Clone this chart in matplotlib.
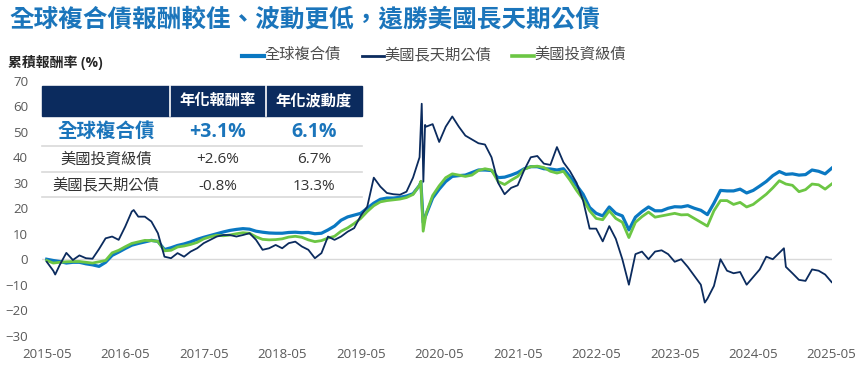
import numpy as np
import matplotlib
matplotlib.use("Agg")
import matplotlib.pyplot as plt
from matplotlib.lines import Line2D
from matplotlib.patches import Rectangle

plt.rcParams['font.family'] = ['Open Sans', 'Noto Sans CJK TC', 'DejaVu Sans']

# months since 2015-05
months = np.arange(121)
tick_months = np.arange(0, 121, 12)
tick_labels = ['2015-05', '2016-05', '2017-05', '2018-05', '2019-05', '2020-05',
               '2021-05', '2022-05', '2023-05', '2024-05', '2025-05']

series_names = ['全球複合債', '美國長天期公債', '美國投資級債']

global_agg = [0, -0.5, -0.9, -1.5, -1.2, -1.2, -1.8, -2.2, -2.8, -1.2,
              1.5, 2.8, 4.2, 5.5, 6.2, 6.8, 7.4, 7.0, 3.8, 4.5,
              5.4, 6.0, 6.8, 7.8, 8.6, 9.3, 10.0, 10.7, 11.3, 11.7,
              12.0, 11.8, 11.0, 10.6, 10.3, 10.2, 10.2, 10.5, 10.6, 10.4,
              10.5, 10.0, 10.2, 11.5, 13.0, 15.3, 16.6, 17.3, 18.0, 20.0,
              22.0, 23.5, 24.0, 24.0, 24.3, 24.8, 25.7, 29.0, 17.5, 24.0,
              27.5, 30.5, 32.5, 32.8, 33.0, 34.0, 35.0, 35.0, 34.8, 32.0,
              32.2, 33.0, 34.0, 35.5, 36.3, 36.3, 35.5, 35.4, 35.0, 35.5,
              32.4, 29.0, 25.5, 20.3, 18.0, 17.0, 20.5, 18.0, 17.0, 11.5,
              16.5, 18.7, 20.5, 19.0, 19.0, 20.0, 20.6, 20.5, 21.0, 20.0,
              19.2, 17.5, 22.0, 27.0, 26.8, 26.8, 27.5, 26.0, 27.0, 28.7,
              30.5, 32.8, 34.4, 33.3, 33.5, 33.0, 33.2, 35.0, 34.5, 33.5,
              35.7]
global_agg_extra_t = [57.2, 57.55]
global_agg_extra_v = [30.2, 14.5]

us_long_tsy = [-1.0, -4.5, -2.2, 2.5, -0.3, 1.5, 0.4, 0.2, 4.0, 8.2,
               8.9, 7.6, 12.8, 18.7, 16.7, 16.7, 14.8, 10.2, 1.0, 0.4,
               2.4, 1.0, 3.0, 4.3, 6.3, 7.6, 8.9, 9.5, 9.5, 8.9,
               9.5, 10.2, 7.6, 3.7, 4.3, 5.6, 4.3, 6.3, 6.9, 5.0,
               3.7, 0.4, 2.4, 8.9, 7.6, 8.9, 10.8, 12.2, 17.0, 20.6,
               32.0, 28.5, 26.0, 25.5, 25.3, 26.5, 32.0, 40.0, 52.0, 53.0,
               46.0, 52.0, 56.0, 52.0, 48.5, 47.0, 45.5, 45.0, 40.0, 30.0,
               25.5, 28.0, 29.0, 35.0, 40.0, 40.5, 37.5, 37.0, 44.0, 38.0,
               34.5, 30.0, 23.0, 12.0, 12.0, 7.0, 13.0, 8.0, 0.0, -10.0,
               2.0, 3.0, 0.0, 3.0, 3.5, 2.0, -1.0, 0.0, -3.0, -6.5,
               -10.0, -15.5, -10.5, 0.0, -4.5, -5.5, -5.0, -10.0, -7.0, -4.0,
               1.0, 0.0, 2.5, -3.0, -5.5, -8.1, -8.5, -4.0, -4.5, -6.0,
               -9.0]
us_long_tsy_extra_t = [1.3, 13.3, 57.33, 57.58, 57.84, 100.6, 112.7]
us_long_tsy_extra_v = [-6.0, 19.3, 61.0, 30.4, 52.7, -17.0, 4.3]

us_ig = [-0.5, -1.5, -1.2, -1.0, -0.9, -0.9, -1.2, -1.5, -1.0, -0.5,
         2.5, 3.5, 4.9, 6.2, 6.8, 7.4, 7.3, 7.0, 3.3, 3.5,
         4.8, 5.2, 5.8, 6.6, 8.0, 8.8, 9.4, 9.2, 9.5, 10.0,
         10.4, 10.2, 8.8, 7.8, 7.6, 7.7, 8.0, 8.7, 9.0, 8.6,
         7.6, 6.9, 7.3, 8.3, 9.0, 11.0, 12.3, 14.0, 16.0, 18.7,
         21.0, 22.5, 23.0, 23.3, 23.6, 24.2, 25.4, 29.0, 18.0, 25.0,
         28.8, 32.0, 33.5, 33.0, 32.5, 33.0, 34.8, 35.5, 35.0, 30.5,
         29.3, 31.0, 32.5, 35.3, 36.3, 36.5, 36.0, 34.5, 33.8, 34.5,
         31.0, 27.0, 23.5, 19.0, 16.0, 15.5, 19.0, 16.0, 14.5, 8.5,
         14.5, 16.7, 18.5, 16.5, 17.0, 17.5, 18.0, 17.4, 17.5, 16.0,
         14.5, 13.0, 19.0, 23.0, 23.0, 21.5, 22.3, 20.5, 21.5, 23.5,
         25.5, 28.0, 30.8, 29.5, 29.0, 26.5, 27.3, 29.5, 29.2, 27.5,
         29.5]
us_ig_extra_t = [57.2, 57.55]
us_ig_extra_v = [30.6, 11.0]

table_cols = ['年化報酬率', '年化波動度']
table_rows = ['全球複合債', '美國投資級債', '美國長天期公債']
ann_return = ['+3.1%', '+2.6%', '-0.8%']
ann_vol = ['6.1%', '6.7%', '13.3%']

BLUE = '#0a78c2'
NAVY = '#0b2b5e'
GREEN = '#6cc644'
TITLE_BLUE = '#1b75bb'
GRAY = '#595959'


def merge(t_main, v_main, t_extra, v_extra):
    t = np.concatenate([np.asarray(t_main, float), np.asarray(t_extra, float)])
    v = np.concatenate([np.asarray(v_main, float), np.asarray(v_extra, float)])
    order = np.argsort(t)
    return t[order], v[order]


W, H = 865, 374
fig = plt.figure(figsize=(W / 100, H / 100), dpi=100)


def fx(px):
    return px / W


def fy(py):
    return 1 - py / H


ax = fig.add_axes([fx(42), fy(335.7), fx(832) - fx(42), fy(80.8) - fy(335.7)])

t, v = merge(months, global_agg, global_agg_extra_t, global_agg_extra_v)
ax.plot(t, v, color=BLUE, lw=2.3, zorder=3, solid_joinstyle='round')
t, v = merge(months, us_ig, us_ig_extra_t, us_ig_extra_v)
ax.plot(t, v, color=GREEN, lw=2.0, zorder=4, solid_joinstyle='round')
t, v = merge(months, us_long_tsy, us_long_tsy_extra_t, us_long_tsy_extra_v)
ax.plot(t, v, color=NAVY, lw=1.3, zorder=5)

ax.axhline(0, color='#d9d9d9', lw=1.0, zorder=1)
ax.set_xlim(-0.72, 120.05)
ax.set_ylim(-30, 70)
ax.set_yticks(np.arange(-30, 71, 10))
ax.set_xticks(tick_months)
ax.set_xticklabels(tick_labels)
ax.tick_params(axis='both', length=0, labelsize=9.5, labelcolor=GRAY)
ax.tick_params(axis='y', pad=10)
ax.tick_params(axis='x', pad=9)
for s in ax.spines.values():
    s.set_visible(False)
ax.patch.set_alpha(0)

# title and axis label
fig.text(fx(9), fy(21), '全球複合債報酬較佳、波動更低，遠勝美國長天期公債',
         color=TITLE_BLUE, fontsize=17.7, fontweight='bold', va='center', ha='left')
fig.text(fx(8), fy(62), '累積報酬率 (%)', color='#262626', fontsize=10,
         fontweight='bold', va='center', ha='left')

# legend
leg_items = [(241.7, BLUE, 3.0, series_names[0]),
             (361.7, NAVY, 2.0, series_names[1]),
             (511.7, GREEN, 2.6, series_names[2])]
for x0, c, lw, name in leg_items:
    fig.add_artist(Line2D([fx(x0), fx(x0 + 22)], [fy(55.7), fy(55.7)],
                          transform=fig.transFigure, color=c, lw=lw))
    fig.text(fx(x0 + 23), fy(55.7), name, color='#4d4d4d', fontsize=11,
             va='center', ha='left')

# summary table
tx0, tx1 = 41.7, 361.7
fig.add_artist(Rectangle((fx(tx0), fy(116)), fx(tx1) - fx(tx0), fy(86) - fy(116),
                         transform=fig.transFigure, color=NAVY, zorder=6))
for xs in [170, 265.7]:
    fig.add_artist(Line2D([fx(xs), fx(xs)], [fy(86), fy(116)],
                          transform=fig.transFigure, color='white', lw=1.2, zorder=7))
col_x = [218, 314]
for cx, lab in zip(col_x, table_cols):
    fig.text(fx(cx), fy(101), lab, color='white', fontsize=11, fontweight='bold',
             ha='center', va='center', zorder=8)
for yl in [146, 171.7, 197.3]:
    fig.add_artist(Line2D([fx(tx0), fx(tx1)], [fy(yl), fy(yl)],
                          transform=fig.transFigure, color='#d9d9d9', lw=1.2, zorder=6))
row_y = [131.7, 160, 186]
for i, (name, r, vol) in enumerate(zip(table_rows, ann_return, ann_vol)):
    if i == 0:
        kw = dict(color=TITLE_BLUE, fontsize=14, fontweight='bold')
    else:
        kw = dict(color='#333333', fontsize=11)
    fig.text(fx(106), fy(row_y[i]), name, ha='center', va='center', **kw)
    fig.text(fx(col_x[0]), fy(row_y[i]), r, ha='center', va='center', **kw)
    fig.text(fx(col_x[1]), fy(row_y[i]), vol, ha='center', va='center', **kw)

fig.savefig('out.png', dpi=100)
